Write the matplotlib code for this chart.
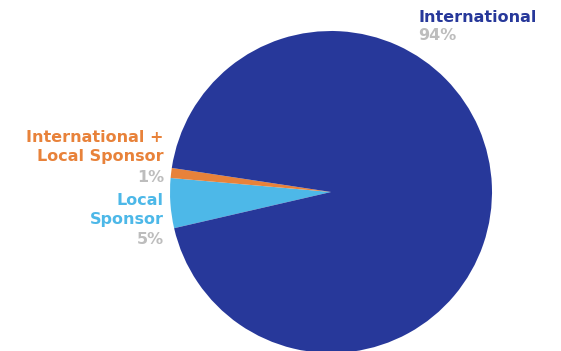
import matplotlib.pyplot as plt

labels = ['Local\nSponsor', 'International +\nLocal Sponsor', 'International']
values = [5, 1, 94]
pct_labels = ['5%', '1%', '94%']
colors = ['#4db8e8', '#e8823a', '#27389a']

W, H = 561, 351
fig = plt.figure(figsize=(W / 100, H / 100), dpi=100)

# axes placed so the pie sits centred at (331, 192) px with radius ~161 px
cx, cy, r = 331, 192, 161
ax = fig.add_axes([(cx - r) / W, (H - cy - r) / H, 2 * r / W, 2 * r / H])
ax.pie(values, colors=colors, startangle=193, counterclock=False,
       wedgeprops=dict(linewidth=0))
ax.set_xlim(-1, 1)
ax.set_ylim(-1, 1)
ax.set_aspect('equal')
ax.axis('off')

grey = '#bdbdbd'
font = 'DejaVu Sans'
fs = 11.5


def px(x, y):
    return x / W, 1 - y / H


# International label, top right
fig.text(*px(418, 17), labels[2], color=colors[2], fontsize=fs,
         fontweight='bold', family=font, ha='left', va='center')
fig.text(*px(418, 36), pct_labels[2], color=grey, fontsize=fs,
         fontweight='bold', family=font, ha='left', va='center')

# International + Local Sponsor, left
fig.text(*px(164, 147), labels[1], color=colors[1], fontsize=fs,
         fontweight='bold', family=font, ha='right', va='center',
         linespacing=1.3)
fig.text(*px(164, 177), pct_labels[1], color=grey, fontsize=fs,
         fontweight='bold', family=font, ha='right', va='center')

# Local Sponsor, left
fig.text(*px(164, 210), labels[0], color=colors[0], fontsize=fs,
         fontweight='bold', family=font, ha='right', va='center',
         linespacing=1.3)
fig.text(*px(164, 240), pct_labels[0], color=grey, fontsize=fs,
         fontweight='bold', family=font, ha='right', va='center')

fig.savefig('out.png', dpi=100)
